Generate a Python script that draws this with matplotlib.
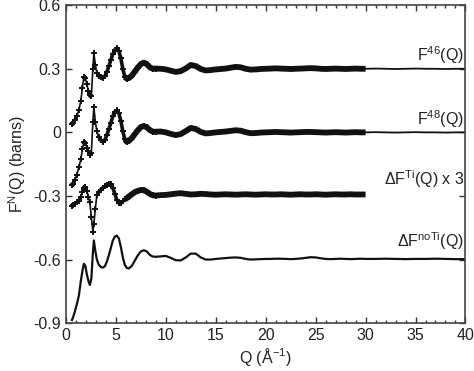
import matplotlib
matplotlib.use("Agg")
import matplotlib.pyplot as plt
from matplotlib.ticker import MultipleLocator

plt.rcParams['font.family'] = ['Liberation Sans', 'DejaVu Sans']
plt.rcParams['mathtext.default'] = 'regular'

# low-Q grid (1/A), shared by the three marker curves and noTi
q_low = [0.6, 0.7, 0.9, 1.1, 1.3, 1.5, 1.65, 1.8, 1.95, 2.1, 2.25, 2.4, 2.55, 2.7, 2.8,
         2.95, 3.1, 3.3, 3.5, 3.7, 3.9, 4.1, 4.3, 4.5, 4.7, 4.9, 5.1, 5.3, 5.5, 5.7,
         5.9, 6.1, 6.3, 6.6, 6.9, 7.2, 7.5, 7.8, 8.1, 8.4, 8.7, 9.0]

f46_low = [0.040, 0.045, 0.060, 0.078, 0.105, 0.150, 0.210, 0.262, 0.255, 0.228, 0.195,
           0.176, 0.172, 0.300, 0.373, 0.320, 0.278, 0.265, 0.259, 0.258, 0.265, 0.285,
           0.312, 0.342, 0.370, 0.390, 0.397, 0.385, 0.350, 0.300, 0.262, 0.254, 0.256,
           0.268, 0.287, 0.306, 0.322, 0.329, 0.322, 0.307, 0.300, 0.301]

f48_low = [-0.250, -0.245, -0.225, -0.200, -0.165, -0.125, -0.080, -0.047, -0.048,
           -0.072, -0.090, -0.105, -0.098, 0.050, 0.118, 0.050, 0.005, -0.020, -0.038,
           -0.044, -0.035, -0.012, 0.015, 0.045, 0.075, 0.097, 0.104, 0.090, 0.055,
           0.005, -0.032, -0.044, -0.040, -0.027, -0.008, 0.010, 0.025, 0.030, 0.024,
           0.011, 0.003, 0.003]

dti_low = [-0.345, -0.343, -0.336, -0.330, -0.325, -0.305, -0.280, -0.262, -0.258,
           -0.275, -0.305, -0.330, -0.400, -0.468, -0.430, -0.360, -0.296, -0.280,
           -0.270, -0.262, -0.255, -0.247, -0.242, -0.245, -0.262, -0.290, -0.318,
           -0.333, -0.335, -0.325, -0.315, -0.310, -0.303, -0.292, -0.282, -0.276,
           -0.272, -0.273, -0.280, -0.290, -0.297, -0.298]

noti_low = [-0.885, -0.875, -0.845, -0.810, -0.770, -0.700, -0.655, -0.620, -0.630,
            -0.670, -0.700, -0.720, -0.690, -0.570, -0.510, -0.560, -0.600, -0.625,
            -0.635, -0.638, -0.632, -0.610, -0.580, -0.545, -0.510, -0.492, -0.487,
            -0.500, -0.540, -0.590, -0.625, -0.640, -0.642, -0.630, -0.605, -0.580,
            -0.562, -0.556, -0.562, -0.578, -0.586, -0.587]

# high-Q grid up to 30
q_high = [9.5, 10.0, 10.5, 11.0, 11.5, 12.0, 12.5, 13.0, 13.5, 14.0, 14.5, 15.0, 15.5,
          16.0, 16.5, 17.0, 17.5, 18.0, 18.5, 19.0, 19.5, 20.0, 20.5, 21.0, 21.5, 22.0,
          22.5, 23.0, 23.5, 24.0, 24.5, 25.0, 25.5, 26.0, 26.5, 27.0, 27.5, 28.0, 28.5,
          29.0, 29.5, 30.0]

f46_high = [0.300, 0.297, 0.291, 0.285, 0.289, 0.302, 0.318, 0.313, 0.299, 0.292, 0.294,
            0.297, 0.299, 0.301, 0.305, 0.309, 0.307, 0.300, 0.296, 0.297, 0.299, 0.300,
            0.301, 0.302, 0.301, 0.300, 0.299, 0.300, 0.301, 0.302, 0.303, 0.302, 0.300,
            0.299, 0.300, 0.301, 0.300, 0.299, 0.300, 0.301, 0.300, 0.300]

f48_high = [0.004, 0.000, -0.007, -0.013, -0.008, 0.006, 0.021, 0.016, 0.002, -0.005,
            -0.003, 0.000, 0.002, 0.004, 0.007, 0.010, 0.008, 0.001, -0.004, -0.003,
            -0.001, 0.000, 0.001, 0.002, 0.001, 0.000, -0.001, 0.000, 0.001, 0.002,
            0.002, 0.001, 0.000, -0.001, 0.000, 0.001, 0.000, -0.001, 0.000, 0.001,
            0.000, 0.000]

dti_high = [-0.296, -0.295, -0.292, -0.289, -0.287, -0.290, -0.293, -0.292, -0.290,
            -0.291, -0.293, -0.294, -0.293, -0.292, -0.293, -0.294, -0.293, -0.292,
            -0.293, -0.294, -0.293, -0.292, -0.293, -0.293, -0.292, -0.293, -0.294,
            -0.293, -0.292, -0.293, -0.293, -0.292, -0.293, -0.294, -0.293, -0.292,
            -0.293, -0.293, -0.292, -0.293, -0.293, -0.293]

noti_high = [-0.585, -0.583, -0.592, -0.603, -0.604, -0.590, -0.572, -0.572, -0.590,
             -0.600, -0.600, -0.597, -0.595, -0.593, -0.591, -0.590, -0.592, -0.597,
             -0.600, -0.599, -0.598, -0.597, -0.597, -0.596, -0.596, -0.597, -0.598,
             -0.597, -0.595, -0.592, -0.589, -0.590, -0.594, -0.597, -0.598, -0.597,
             -0.596, -0.597, -0.598, -0.597, -0.596, -0.597]

# tail beyond 30 (thin lines)
q_tail = [30.0, 31.0, 32.0, 33.0, 34.0, 35.0, 36.0, 37.0, 38.0, 39.0, 40.0]
f46_tail = [0.300, 0.301, 0.300, 0.299, 0.300, 0.301, 0.300, 0.300, 0.299, 0.300, 0.300]
f48_tail = [0.000, 0.001, 0.000, -0.001, 0.000, 0.001, 0.000, 0.000, -0.001, 0.000, 0.000]
noti_tail = [-0.597, -0.597, -0.596, -0.597, -0.598, -0.597, -0.597, -0.596, -0.597,
             -0.598, -0.598]

labels = ['F$^{46}$(Q)', 'F$^{48}$(Q)', 'ΔF$^{Ti}$(Q) x 3', 'ΔF$^{noTi}$(Q)']
label_y = [0.312, 0.012, -0.272, -0.566]

fig = plt.figure(figsize=(4.74, 3.71), dpi=100)
ax = fig.add_axes([0.139, 0.129, 0.843, 0.857])

for low, high in [(f46_low, f46_high), (f48_low, f48_high), (dti_low, dti_high)]:
    # low-Q part with individual + markers
    ax.plot(q_low, low, '-', color='#111111', lw=1.2,
            marker='+', ms=4.5, mew=1.4)
    # markers get denser on the broad peaks
    ax.plot(q_low[17:31], low[17:31], '-', color='#111111', lw=2.6,
            solid_capstyle='round')
    # dense marker band at high Q
    ax.plot(q_low[30:] + q_high, low[30:] + high, '-', color='#111111', lw=4.2,
            solid_capstyle='butt', solid_joinstyle='round')

ax.plot(q_tail, f46_tail, '-', color='#111111', lw=1.3)
ax.plot(q_tail, f48_tail, '-', color='#111111', lw=1.3)
ax.plot(q_low + q_high + q_tail[1:], noti_low + noti_high + noti_tail[1:], '-',
        color='#111111', lw=1.6)

for lab, yy in zip(labels, label_y):
    ax.text(39.9, yy, lab, ha='right', va='bottom', fontsize=11.5, color='#222222')

ax.set_xlim(0, 40)
ax.set_ylim(-0.9, 0.6)
ax.xaxis.set_major_locator(MultipleLocator(5))
ax.xaxis.set_minor_locator(MultipleLocator(1))
ax.set_yticks([0.6, 0.3, 0, -0.3, -0.6, -0.9])
ax.set_yticklabels(['0.6', '0.3', '0', '-0.3', '-0.6', '-0.9'])
ax.tick_params(which='both', direction='in', top=True, right=True, labelsize=11.5,
               width=1.0, colors='#333333', labelcolor='#222222')
ax.tick_params(which='major', length=4)
ax.tick_params(which='minor', length=2.5)
for s in ax.spines.values():
    s.set_linewidth(1.2)
    s.set_color('#444444')

ax.set_xlabel('Q (Å$^{-1}$)', fontsize=11.5, color='#222222', labelpad=2)
ax.set_ylabel('F$^{N}$(Q) (barns)', fontsize=11.5, color='#222222', labelpad=4)

fig.savefig('out.png', dpi=100)
